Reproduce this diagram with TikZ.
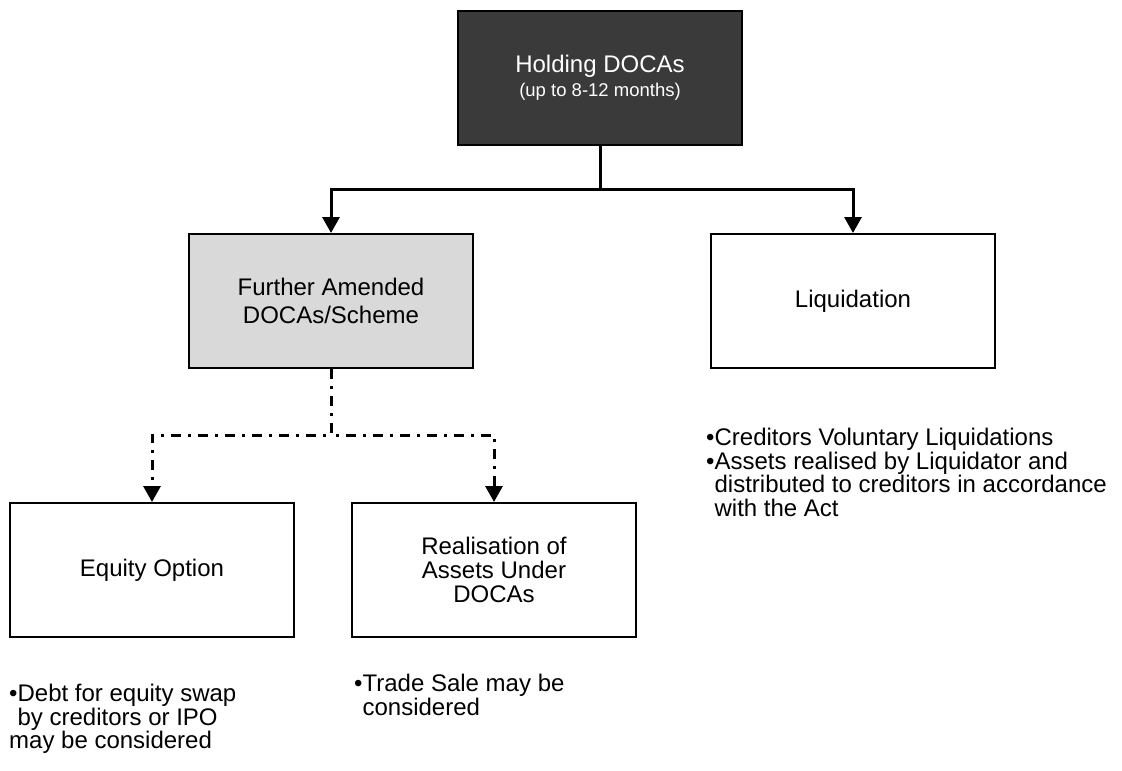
\documentclass[tikz,border=0pt]{standalone}
\usepackage{fontspec}
\setmainfont{Liberation Sans}
\usepackage{tikz}
\usetikzlibrary{arrows.meta}

\definecolor{holdgrey}{RGB}{58,58,58}
\definecolor{amendgrey}{RGB}{217,217,217}

\begin{document}
\begin{tikzpicture}[x=1pt, y=1pt,
    box/.style={rectangle, draw, line width=2pt, minimum width=284pt, minimum height=134pt,
        inner sep=0pt, align=center, font=\fontsize{24}{28}\selectfont},
    note/.style={anchor=north west, inner sep=0pt, align=left, font=\fontsize{24}{23.5}\selectfont},
    link/.style={line width=3pt, -{Triangle[width=17pt,length=16pt]}},
    dlink/.style={line width=3pt, dash pattern=on 10pt off 7pt on 3pt off 7pt,
        -{Triangle[width=17pt,length=16pt]}}]

    \useasboundingbox (0,0) rectangle (1122,-771);

    % boxes
    \node[box, fill=holdgrey, text=white] (hold) at (600,-78)
        {Holding DOCAs\\[-4pt]{\fontsize{18.5}{20}\selectfont (up to 8-12 months)}};
    \node[box, fill=amendgrey] (further) at (331,-301) {Further Amended\\DOCAs/Scheme};
    \node[box] (liquid) at (853,-301) {Liquidation};
    \node[box] (equity) at (152,-570) {Equity Option};
    \node[box, font=\fontsize{24}{24}\selectfont] (realise) at (494,-570)
        {Realisation of\\Assets Under\\DOCAs};

    \coordinate (bar) at (600,-189);
    \coordinate (fork) at (331,-435);

    \draw[link] (hold.south) -- (bar) -| (further.north);
    \draw[link] (hold.south) -- (bar) -| (liquid.north);

    \draw[dlink] (further.south) -- (fork) -| (equity.north);
    \draw[dlink] (further.south) -- (fork) -| (realise.north);

    % notes under the boxes
    \node[note] (liqnote) at (706,-428)
        {\textbullet Creditors Voluntary Liquidations\\
         \textbullet Assets realised by Liquidator and\\
         \hphantom{\textbullet}distributed to creditors in accordance\\
         \hphantom{\textbullet}with the Act};
    \node[note] (equitynote) at (9,-684)
        {\textbullet Debt for equity swap\\
         \hphantom{\textbullet}by creditors or IPO\\
         may be considered};
    \node[note] (tradenote) at (354,-674)
        {\textbullet Trade Sale may be\\
         \hphantom{\textbullet}considered};

\end{tikzpicture}
\end{document}
